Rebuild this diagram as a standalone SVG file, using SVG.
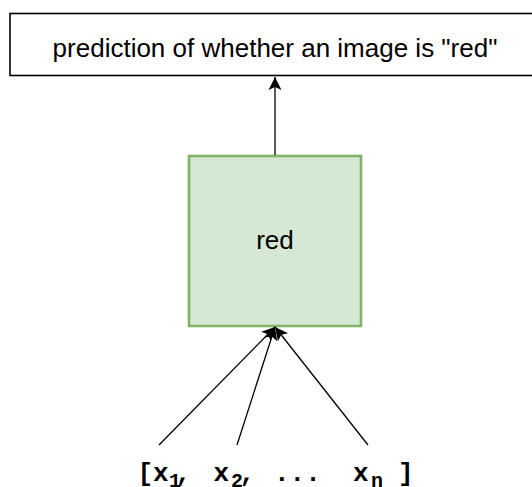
<svg xmlns="http://www.w3.org/2000/svg" width="532" height="487" viewBox="0 0 532 487">
  <style>
    .lbl { font-family: "Liberation Sans", Arial, sans-serif; font-size: 26px; fill: #000; text-anchor: middle; }
    .mono { font-family: "Liberation Mono", "Courier New", monospace; font-size: 26px; font-weight: bold; fill: #000; }
    .sub { font-size: 20px; }
    .conn { stroke: #000; stroke-width: 1.3; fill: none; marker-end: url(#arr); }
  </style>
  <defs>
    <marker id="arr" viewBox="-14 -7 15 14" refX="0" refY="0" markerWidth="15" markerHeight="14" markerUnits="userSpaceOnUse" orient="auto">
      <path d="M0,0 L-13,-6.5 L-10,0 L-13,6.5 Z" fill="#000"/>
    </marker>
  </defs>
  <rect width="532" height="487" fill="#fff"/>
  <g id="output">
    <rect x="10" y="13.5" width="530" height="62" fill="#fff" stroke="#000" stroke-width="1.6"/>
    <text class="lbl" x="275" y="57">prediction of whether an image is "red"</text>
  </g>
  <g id="red">
    <rect x="189" y="156" width="172" height="170" fill="#d5e8d4" stroke="#82b366" stroke-width="2.6"/>
    <text class="lbl" x="275" y="249">red</text>
  </g>
  <g id="inputs">
    <text class="mono" y="481"><tspan x="137.5">[x</tspan><tspan class="sub" x="169" dy="6">1</tspan><tspan x="175.5" dy="-6">,</tspan><tspan x="213.5">x</tspan><tspan class="sub" x="231" dy="6">2</tspan><tspan x="239.5" dy="-6">,</tspan><tspan x="274">...</tspan><tspan x="353">x</tspan><tspan class="sub" x="371" dy="6">n</tspan><tspan x="398" dy="-6">]</tspan></text>
  </g>
  <g id="connectors">
    <path class="conn" d="M275,155 L275,77"/>
    <path class="conn" d="M159,445 L275,327"/>
    <path class="conn" d="M237,445 L275,327"/>
    <path class="conn" d="M368,445 L275,327"/>
  </g>
</svg>
